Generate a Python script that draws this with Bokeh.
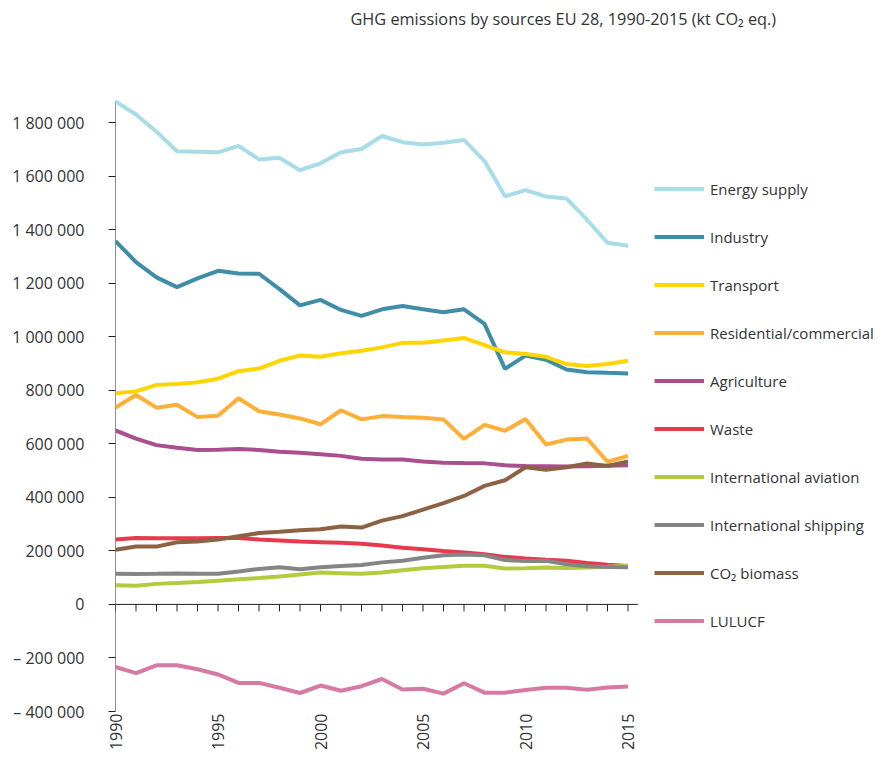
import math
from bokeh.plotting import figure
from bokeh.models import (Range1d, FixedTicker, Legend, LegendItem, Label)
from bokeh.embed import file_html
from bokeh.resources import INLINE

years = list(range(1990, 2016))

series_names = ["Energy supply", "Industry", "Transport", "Residential/commercial",
                "Agriculture", "Waste", "International aviation",
                "International shipping", "CO\u2082 biomass", "LULUCF"]

energy = [1878600, 1829900, 1765400, 1692400, 1691000, 1688700, 1713000, 1662000, 1668000,
          1621800, 1647400, 1688700, 1700900, 1749600, 1726500, 1718000, 1724000, 1735000,
          1656000, 1524500, 1547600, 1523300, 1516000, 1436900, 1350500, 1339600]
industry = [1357000, 1278700, 1221500, 1185000, 1217800, 1245900, 1236100, 1235000, 1177700,
            1116900, 1137600, 1099900, 1078000, 1102300, 1114500, 1102300, 1091400, 1102300,
            1047600, 879700, 929500, 913700, 877200, 867500, 865000, 862600]
transport = [788400, 795700, 820000, 823700, 829800, 843200, 871100, 880900, 910000, 929500,
             924700, 938000, 947800, 960000, 977000, 977000, 985500, 995200, 968500, 941700,
             935600, 924700, 897900, 890600, 897900, 910000]
residential = [734900, 782300, 734900, 745800, 699600, 704500, 770200, 721500, 709300, 694700,
               672800, 725200, 691100, 703300, 699600, 697200, 691100, 618100, 670400, 648500,
               692300, 597400, 615700, 619400, 532900, 554800]
agriculture = [649700, 619400, 595000, 585200, 576700, 577900, 580400, 576700, 570600, 566900,
               560900, 554800, 543900, 541400, 541000, 534000, 529300, 528000, 526800, 519500,
               517100, 516000, 514700, 516000, 518300, 519500]
waste = [242100, 248200, 247000, 247000, 247000, 248200, 248200, 242100, 238500, 234800,
         232400, 230000, 226300, 220200, 211700, 205600, 199500, 193500, 187400, 177600,
         171600, 166700, 163100, 154500, 148400, 143500]
aviation = [71800, 69400, 76700, 80300, 84000, 88800, 93600, 98600, 104600, 111900, 119200,
            116800, 114400, 119200, 127800, 135100, 140000, 144800, 144000, 133800, 135100,
            137500, 136300, 137500, 141100, 144800]
shipping = [114400, 114000, 114400, 115000, 114400, 114400, 122900, 132600, 138700, 131400,
            138700, 143500, 147200, 157000, 163100, 174000, 183700, 186200, 183700, 165500,
            161800, 163100, 149700, 142400, 140000, 138700]
biomass = [204400, 216500, 216000, 232400, 234800, 242100, 254300, 266500, 271300, 277400,
           281000, 290800, 287100, 313000, 329700, 354000, 378400, 405200, 442900, 463600,
           512200, 502500, 512200, 526800, 517100, 534100]
lulucf = [-233600, -256700, -227500, -227500, -242100, -261600, -293200, -293200, -311500,
          -330900, -303000, -322400, -305400, -278600, -317600, -315100, -333300, -294400,
          -329700, -329700, -320000, -311500, -311500, -318800, -310300, -306600]

series_values = [energy, industry, transport, residential, agriculture, waste,
                 aviation, shipping, biomass, lulucf]
colors = ["#A8DDE7", "#3F8DA7", "#FFD500", "#FDAF38", "#A94E8F", "#E8394E",
          "#B3CB3F", "#858585", "#8B6244", "#D67AA4"]

y_ticks = [-400000, -200000, 0, 200000, 400000, 600000, 800000, 1000000,
           1200000, 1400000, 1600000, 1800000]
y_tick_labels = ["\u2013 400 000", "\u2013 200 000", "0", "200 000", "400 000", "600 000",
                 "800 000", "1 000 000", "1 200 000", "1 400 000", "1 600 000", "1 800 000"]
x_ticks = [1990, 1995, 2000, 2005, 2010, 2015]
x_tick_labels = ["1990", "1995", "2000", "2005", "2010", "2015"]

title_text = "GHG emissions by sources EU 28, 1990-2015 (kt CO\u2082 eq.)"

FONT = "Open Sans"
TXT = "#333333"
AX = "#222222"

Y_MIN, Y_AXIS_TOP, Y_TOP = -400000, 1880000, 2255700
X_MIN, X_AXIS_END, X_MAX = 1990, 2015.48, 2027.17

p = figure(width=877, height=753, output_backend="svg", toolbar_location=None,
           x_range=Range1d(X_MIN, X_MAX), y_range=Range1d(Y_MIN, Y_TOP),
           min_border_left=115, min_border_right=0, min_border_top=0,
           min_border_bottom=38)
p.outline_line_color = None
p.grid.visible = False
p.background_fill_color = "white"
p.border_fill_color = "white"

# y axis (ticks + labels; the line itself drawn as a segment so it stops near the top)
ya = p.yaxis[0]
ya.ticker = FixedTicker(ticks=y_ticks)
ya.major_label_overrides = {t: l for t, l in zip(y_ticks, y_tick_labels)}
ya.major_label_text_font = FONT
ya.major_label_text_font_size = "16px"
ya.major_label_text_color = TXT
ya.major_tick_out = 7
ya.major_tick_in = 0
ya.minor_tick_out = 0
ya.minor_tick_in = 0
ya.major_label_standoff = 24
ya.axis_line_color = None
ya.major_tick_line_color = AX

p.segment(x0=[X_MIN], y0=[Y_MIN], x1=[X_MIN], y1=[Y_AXIS_TOP], line_color=AX, line_width=1)

# x axis (labels only, at the bottom)
xa = p.xaxis[0]
xa.ticker = FixedTicker(ticks=x_ticks)
xa.major_label_overrides = {t: l for t, l in zip(x_ticks, x_tick_labels)}
xa.major_label_orientation = math.pi / 2
xa.major_label_text_font = FONT
xa.major_label_text_font_size = "16px"
xa.major_label_text_color = TXT
xa.axis_line_color = None
xa.major_tick_line_color = None
xa.minor_tick_line_color = None
xa.major_tick_out = 0
xa.major_tick_in = 0
xa.minor_tick_out = 0
xa.major_label_standoff = 2

# zero line with yearly ticks
p.segment(x0=[X_MIN], y0=[0], x1=[X_AXIS_END], y1=[0], line_color=AX, line_width=1)
p.ray(x=years, y=[0] * len(years), length=7, angle=-math.pi / 2,
      length_units="screen", line_color=AX, line_width=1)

items = []
for name, vals, col in zip(series_names, series_values, colors):
    r = p.line(years, vals, line_color=col, line_width=4)
    items.append(LegendItem(label=name, renderers=[r]))

legend = Legend(items=items, location=(539, 80), orientation="vertical",
                glyph_width=50, glyph_height=21, label_height=21, label_standoff=6,
                spacing=27, padding=10, margin=0,
                label_text_font=FONT, label_text_font_size="15px", label_text_color=TXT,
                border_line_color=None, background_fill_alpha=0)
p.add_layout(legend)

p.add_layout(Label(x=235, y=693, x_units="screen", y_units="screen", text=title_text,
                   text_font=FONT, text_font_size="16.3px", text_color=TXT,
                   text_baseline="middle", text_align="left"))

open("out.html", "w").write(file_html(p, INLINE))
